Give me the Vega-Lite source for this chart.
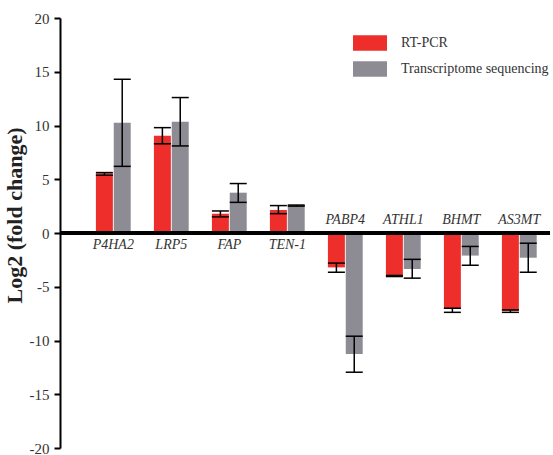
{
  "$schema": "https://vega.github.io/schema/vega-lite/v6.json",
  "width": 490,
  "height": 430,
  "autosize": {"type": "none"},
  "padding": {"left": 60, "top": 18, "right": 3, "bottom": 7},
  "background": "white",
  "config": {
    "view": {"stroke": null}
  },
  "data": {
    "values": [
      {"gene": "P4HA2", "method": "RT-PCR", "value": 5.55, "lo": 5.37, "hi": 5.62},
      {"gene": "P4HA2", "method": "Transcriptome sequencing", "value": 10.25, "lo": 6.2, "hi": 14.3},
      {"gene": "LRP5", "method": "RT-PCR", "value": 9.05, "lo": 8.3, "hi": 9.8},
      {"gene": "LRP5", "method": "Transcriptome sequencing", "value": 10.35, "lo": 8.1, "hi": 12.6},
      {"gene": "FAP", "method": "RT-PCR", "value": 1.8, "lo": 1.5, "hi": 2.05},
      {"gene": "FAP", "method": "Transcriptome sequencing", "value": 3.75, "lo": 2.85, "hi": 4.6},
      {"gene": "TEN-1", "method": "RT-PCR", "value": 2.15, "lo": 1.8, "hi": 2.55},
      {"gene": "TEN-1", "method": "Transcriptome sequencing", "value": 2.55, "lo": 2.5, "hi": 2.6},
      {"gene": "PABP4", "method": "RT-PCR", "value": -3.2, "lo": -3.65, "hi": -2.8},
      {"gene": "PABP4", "method": "Transcriptome sequencing", "value": -11.25, "lo": -12.95, "hi": -9.6},
      {"gene": "ATHL1", "method": "RT-PCR", "value": -4.0, "lo": -4.05, "hi": -3.95},
      {"gene": "ATHL1", "method": "Transcriptome sequencing", "value": -3.35, "lo": -4.2, "hi": -2.45},
      {"gene": "BHMT", "method": "RT-PCR", "value": -7.08, "lo": -7.38, "hi": -7.0},
      {"gene": "BHMT", "method": "Transcriptome sequencing", "value": -2.1, "lo": -3.0, "hi": -1.25},
      {"gene": "AS3MT", "method": "RT-PCR", "value": -7.25, "lo": -7.38, "hi": -7.15},
      {"gene": "AS3MT", "method": "Transcriptome sequencing", "value": -2.3, "lo": -3.65, "hi": -0.95}
    ]
  },
  "encoding": {
    "x": {
      "field": "gene",
      "type": "nominal",
      "sort": null,
      "scale": {"paddingInner": 0.4, "paddingOuter": 0.424, "align": 0.73},
      "axis": null
    }
  },
  "layer": [
    {
      "mark": {"type": "bar"},
      "encoding": {
        "xOffset": {"field": "method", "type": "nominal", "sort": null, "scale": {"paddingInner": 0.05, "paddingOuter": 0}},
        "y": {
          "field": "value",
          "type": "quantitative",
          "scale": {"domain": [-20, 20], "nice": false},
          "axis": {
            "title": "Log2 (fold change)",
            "values": [-20, -15, -10, -5, 0, 5, 10, 15, 20],
            "labelExpr": "datum.value < 0 ? '-' + abs(datum.value) : '' + datum.value",
            "grid": false,
            "domainColor": "black",
            "domainWidth": 2,
            "tickColor": "black",
            "tickWidth": 2,
            "tickSize": 6,
            "labelFont": "Liberation Serif",
            "labelFontSize": 15,
            "labelColor": "#333333",
            "labelPadding": 5,
            "titleFont": "Liberation Serif",
            "titleFontSize": 22,
            "titleFontWeight": "bold",
            "titleColor": "#222222",
            "titleY": 197,
            "titleX": -34,
            "titleAngle": -90,
            "titleAlign": "center",
            "titleBaseline": "bottom"
          }
        },
        "color": {
          "field": "method",
          "type": "nominal",
          "sort": null,
          "scale": {"domain": ["RT-PCR", "Transcriptome sequencing"], "range": ["#EE2E2B", "#8D8C94"]},
          "legend": {
            "title": null,
            "orient": "none",
            "legendX": 300,
            "legendY": 15,
            "padding": 0,
            "symbolType": "M-1.7,-0.78H1.7V0.78H-1.7Z",
            "symbolSize": 400,
            "symbolStrokeWidth": 0,
            "symbolOpacity": 1,
            "labelFont": "Liberation Serif",
            "labelFontSize": 14,
            "labelColor": "#333333",
            "labelOffset": 21,
            "rowPadding": 8
          }
        }
      }
    },
    {
      "mark": {"type": "rule", "color": "black", "strokeWidth": 1.5},
      "encoding": {
        "xOffset": {"field": "method", "type": "nominal", "sort": null},
        "y": {"field": "lo", "type": "quantitative"},
        "y2": {"field": "hi"}
      }
    },
    {
      "mark": {"type": "tick", "color": "black", "thickness": 1.5, "size": 17, "opacity": 1},
      "encoding": {
        "xOffset": {"field": "method", "type": "nominal", "sort": null},
        "y": {"field": "lo", "type": "quantitative"}
      }
    },
    {
      "mark": {"type": "tick", "color": "black", "thickness": 1.5, "size": 17, "opacity": 1},
      "encoding": {
        "xOffset": {"field": "method", "type": "nominal", "sort": null},
        "y": {"field": "hi", "type": "quantitative"}
      }
    },
    {
      "mark": {"type": "rule", "color": "black", "strokeWidth": 2.5},
      "encoding": {
        "x": {"value": 0},
        "x2": {"value": 490},
        "y": {"datum": 0, "type": "quantitative"}
      }
    },
    {
      "transform": [{"filter": "datum.method === 'RT-PCR' && datum.value > 0"}],
      "mark": {"type": "text", "dy": 12, "baseline": "middle", "align": "center", "font": "Liberation Serif", "fontStyle": "italic", "fontSize": 14, "color": "#333333"},
      "encoding": {
        "y": {"datum": 0, "type": "quantitative"},
        "text": {"field": "gene"}
      }
    },
    {
      "transform": [{"filter": "datum.method === 'RT-PCR' && datum.value < 0"}],
      "mark": {"type": "text", "dy": -13, "baseline": "middle", "align": "center", "font": "Liberation Serif", "fontStyle": "italic", "fontSize": 14, "color": "#333333"},
      "encoding": {
        "y": {"datum": 0, "type": "quantitative"},
        "text": {"field": "gene"}
      }
    }
  ]
}
